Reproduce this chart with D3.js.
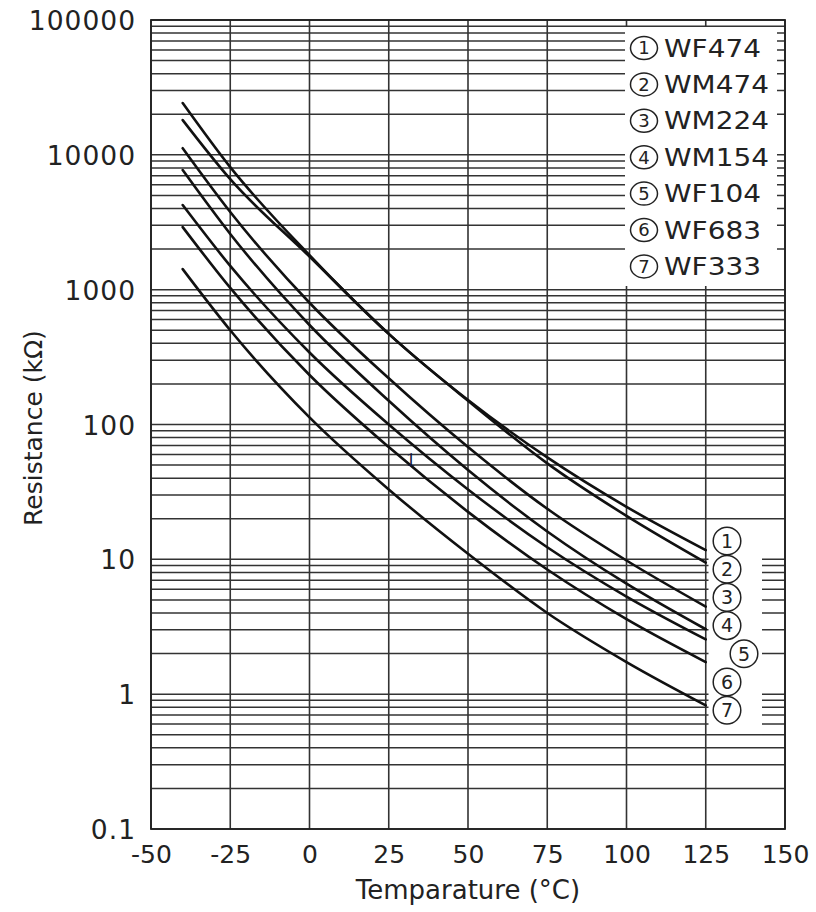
<!DOCTYPE html>
<html>
<head>
<meta charset="utf-8">
<script src="https://cdn.jsdelivr.net/npm/d3@7"></script>
<style>
  html, body { margin: 0; padding: 0; background: #fff; }
  svg { display: block; }
</style>
</head>
<body>
<svg id="chart" width="816" height="912"></svg>
<script>
// ---------------- data ----------------
const temps = [-40, -25, 0, 25, 50, 75, 100, 125];
const names = ["WF474", "WM474", "WM224", "WM154", "WF104", "WF683", "WF333"];
const markNums = ["1", "2", "3", "4", "5", "6", "7"];
const WF474 = [24200, 8100, 1800, 470, 152, 57, 24.5, 11.7];
const WM474 = [18100, 6600, 1760, 470, 150, 51.5, 21, 9.45];
const WM224 = [11200, 3770, 800, 220, 68, 23.7, 9.8, 4.46];
const WM154 = [7710, 2590, 547, 150, 46, 16.1, 6.6, 3.03];
const WF104 = [4240, 1500, 342, 100, 33, 12.3, 5.3, 2.55];
const WF683 = [2910, 1030, 233, 68, 22.5, 8.4, 3.6, 1.73];
const WF333 = [1420, 500, 113, 33, 11, 4.0, 1.73, 0.826];
const seriesValues = [WF474, WM474, WM224, WM154, WF104, WF683, WF333];
const xTicks = [-50, -25, 0, 25, 50, 75, 100, 125, 150];
const yTicks = [0.1, 1, 10, 100, 1000, 10000, 100000];
const yTickLabels = ["0.1", "1", "10", "100", "1000", "10000", "100000"];

// ---------------- layout ----------------
const svg = d3.select("#chart");
const L = 151, R = 785, T = 20, B = 829;
const x = d3.scaleLinear().domain([-50, 150]).range([L, R]);
const y = d3.scaleLog().domain([0.1, 100000]).range([B, T]);
const FONT = "'DejaVu Sans', Verdana, sans-serif";
const INK = "#222";

// minor/major horizontal grid values
const hGrid = [];
for (let k = -1; k <= 4; k++) for (let m = 1; m <= 9; m++) hGrid.push(m * Math.pow(10, k));
hGrid.push(100000);

const grid = svg.append("g");
grid.selectAll("line.h").data(hGrid).join("line")
  .attr("class", "h")
  .attr("x1", L).attr("x2", R)
  .attr("y1", d => y(d)).attr("y2", d => y(d))
  .attr("stroke", "#333").attr("stroke-width", 1.5);
grid.selectAll("line.v").data(xTicks).join("line")
  .attr("class", "v")
  .attr("x1", d => x(d)).attr("x2", d => x(d))
  .attr("y1", T).attr("y2", B)
  .attr("stroke", "#333").attr("stroke-width", 1.6);

// white label boxes over the grid
svg.append("rect").attr("x", 625).attr("y", 27).attr("width", 152).attr("height", 259).attr("fill", "#fff");
svg.append("rect").attr("x", 708.5).attr("y", 527).attr("width", 53.5).attr("height", 203).attr("fill", "#fff");

// frame
svg.append("rect").attr("x", L).attr("y", T).attr("width", R - L).attr("height", B - T)
  .attr("fill", "none").attr("stroke", INK).attr("stroke-width", 1.8);

// curves
const line = d3.line()
  .x((d, i) => x(temps[i]))
  .y(d => y(d))
  .curve(d3.curveMonotoneX);
svg.append("g").selectAll("path").data(seriesValues).join("path")
  .attr("d", d => line(d))
  .attr("fill", "none").attr("stroke", "#111").attr("stroke-width", 2.6)
  .attr("stroke-linecap", "round");

// axes
const xAxis = d3.axisBottom(x).tickValues(xTicks).tickSize(0).tickPadding(16).tickFormat(d => String(d));
svg.append("g").attr("transform", `translate(0,${B})`).call(xAxis)
  .call(g => g.select(".domain").remove())
  .selectAll("text").attr("font-family", FONT).attr("font-size", 25).attr("fill", INK);

const yAxis = d3.axisLeft(y).tickValues(yTicks).tickSize(0).tickPadding(15)
  .tickFormat((d, i) => yTickLabels[i]);
svg.append("g").attr("transform", `translate(${L},0)`).call(yAxis)
  .call(g => g.select(".domain").remove())
  .selectAll("text").attr("font-family", FONT).attr("font-size", 26.5).attr("fill", INK)
  .attr("letter-spacing", 1).attr("dy", "0.36em");

// axis titles
svg.append("text").attr("x", 468).attr("y", 899).attr("text-anchor", "middle")
  .attr("font-family", FONT).attr("font-size", 26).attr("fill", INK)
  .text("Temparature (°C)");
svg.append("text").attr("transform", "translate(42,428) rotate(-90)").attr("text-anchor", "middle")
  .attr("font-family", FONT).attr("font-size", 25).attr("fill", INK)
  .text("Resistance (kΩ)");

// legend (top right): circled number + part name
const legY = i => 48 + i * 36.4;
const leg = svg.append("g");
leg.selectAll("ellipse").data(markNums).join("ellipse")
  .attr("cx", 644).attr("cy", (d, i) => legY(i))
  .attr("rx", 13.5).attr("ry", 11.5)
  .attr("fill", "none").attr("stroke", INK).attr("stroke-width", 1.5);
leg.selectAll("text.m").data(markNums).join("text").attr("class", "m")
  .attr("x", 644).attr("y", (d, i) => legY(i)).attr("dy", "0.36em")
  .attr("text-anchor", "middle")
  .attr("font-family", FONT).attr("font-size", 18).attr("fill", INK)
  .text(d => d);
leg.selectAll("text.n").data(names).join("text").attr("class", "n")
  .attr("x", 664).attr("y", (d, i) => legY(i)).attr("dy", "0.36em")
  .attr("font-family", FONT).attr("font-size", 24).attr("fill", INK)
  .attr("textLength", d => d.includes("M") ? 105 : 97).attr("lengthAdjust", "spacingAndGlyphs")
  .text(d => d);

// end labels at the curve ends
const endX = i => 727 + (i === 4 ? 17 : 0);
const endY = i => 541 + i * 28.2;
const ends = svg.append("g");
ends.selectAll("circle").data(markNums).join("circle")
  .attr("cx", (d, i) => endX(i)).attr("cy", (d, i) => endY(i)).attr("r", 13.8)
  .attr("fill", "none").attr("stroke", INK).attr("stroke-width", 1.5);
ends.selectAll("text").data(markNums).join("text")
  .attr("x", (d, i) => endX(i)).attr("y", (d, i) => endY(i)).attr("dy", "0.36em")
  .attr("text-anchor", "middle")
  .attr("font-family", FONT).attr("font-size", 19).attr("fill", INK)
  .text(d => d);

// stray footnote mark present in the source image
svg.append("text").attr("x", 406).attr("y", 466).attr("font-family", "'Liberation Serif', serif")
  .attr("font-size", 19).attr("fill", "#101840").text("1");
</script>
</body>
</html>
